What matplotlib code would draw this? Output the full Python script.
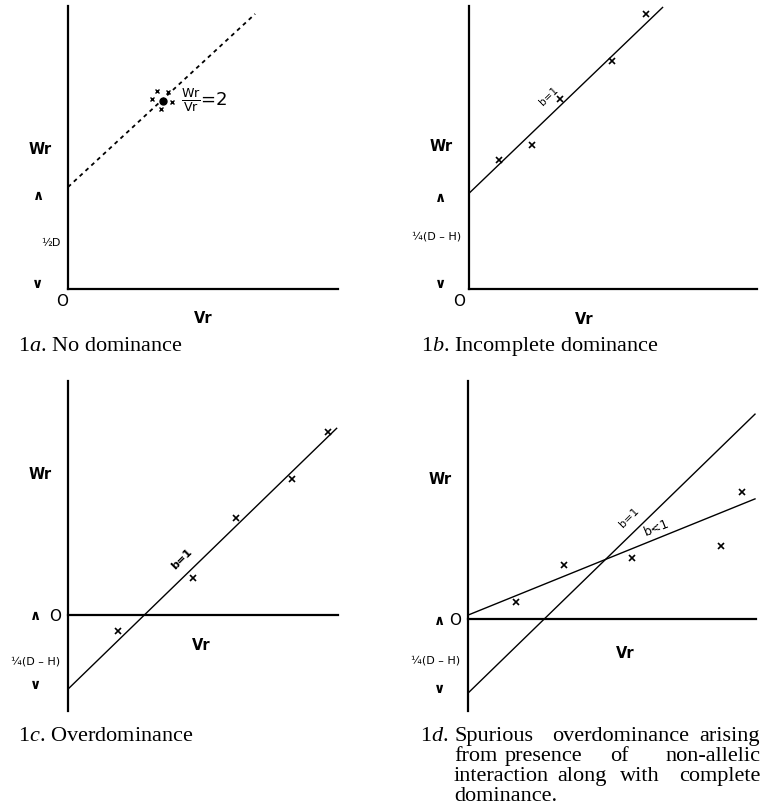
import numpy as np
import matplotlib
matplotlib.use('Agg')
import matplotlib.pyplot as plt

plt.rcParams['mathtext.fontset'] = 'custom'
plt.rcParams['mathtext.rm'] = 'Liberation Serif'
plt.rcParams['mathtext.it'] = 'Liberation Serif:italic'
plt.rcParams['mathtext.sf'] = 'DejaVu Sans'

# --- dados (unidades arbitrarias de Vr e Wr) ---
# 1a: sem dominancia
a_line_vr = [0, 6.93]
a_line_wr = [3.92, 10.58]
a_mean_vr = [3.52]
a_mean_wr = [7.23]
a_pts_vr = [3.30, 3.70, 3.11, 3.85, 3.44]
a_pts_wr = [7.62, 7.58, 7.31, 7.19, 6.92]

# 1b: dominancia incompleta
b_line_vr = [0, 7.17]
b_line_wr = [3.68, 10.83]
b_pts_vr = [1.12, 2.32, 3.37, 5.31, 6.54]
b_pts_wr = [4.96, 5.55, 7.31, 8.76, 10.58]

# 1c: sobredominancia
c_line_vr = [0, 9.95]
c_line_wr = [-2.85, 7.18]
c_pts_vr = [1.86, 4.62, 6.22, 8.28, 9.64]
c_pts_wr = [-0.60, 1.41, 3.72, 5.23, 7.05]

# 1d: sobredominancia espuria
d_b1_vr = [0, 10.63]
d_b1_wr = [-2.85, 7.88]
d_blt1_vr = [0, 10.63]
d_blt1_wr = [0.15, 4.62]
d_pts_vr = [1.78, 3.57, 6.06, 9.36, 10.14]
d_pts_wr = [0.67, 2.09, 2.33, 2.82, 4.90]

W, H = 761, 812
fig = plt.figure(figsize=(W / 100, H / 100), dpi=100)
fig.set_facecolor('white')


def make_axes(left, top, right, bottom, xlim, ylim, zero_axis):
    ax = fig.add_axes([left / W, 1 - bottom / H, (right - left) / W, (bottom - top) / H])
    ax.set_xlim(*xlim)
    ax.set_ylim(*ylim)
    ax.set_facecolor('none')
    for s in ['top', 'right']:
        ax.spines[s].set_visible(False)
    ax.spines['left'].set_linewidth(1.6)
    ax.spines['bottom'].set_linewidth(1.6)
    if zero_axis:
        ax.spines['bottom'].set_position(('data', 0))
    ax.set_xticks([])
    ax.set_yticks([])
    return ax


def axis_labels(ax, wr_y, frac_txt, frac_y, caret_up, caret_dn, o_pos, vr_pos):
    ax.text(-1.05, wr_y, 'Wr', fontsize=10.5, fontweight='bold', ha='center', va='center')
    ax.text(caret_up[0], caret_up[1], '∧', fontsize=10, fontweight='bold', ha='center', va='center')
    ax.text(caret_dn[0], caret_dn[1], '∨', fontsize=10, fontweight='bold', ha='center', va='center')
    ax.text(-0.28, frac_y, frac_txt, fontsize=8, ha='right', va='center')
    ax.text(o_pos[0], o_pos[1], 'O', fontsize=11, ha='center', va='center')
    ax.text(vr_pos[0], vr_pos[1], 'Vr', fontsize=10.5, fontweight='bold', ha='center', va='center')


cross = dict(linestyle='none', marker='x', markersize=4.5, markeredgewidth=1.2,
             color='black', clip_on=False)

# --- 1a ---
ax1 = make_axes(68, 7, 338, 290, (0, 10), (0, 10.885), False)
ax1.plot(a_line_vr, a_line_wr, color='black', lw=1.3, linestyle=(0, (2.2, 2.2)))
ax1.plot(a_pts_vr, a_pts_wr, **dict(cross, markersize=3.5, markeredgewidth=1.0))
ax1.plot(a_mean_vr, a_mean_wr, 'o', color='black', markersize=5)
ax1.text(4.2, 7.3, r'$\frac{\mathsf{Wr}}{\mathsf{Vr}}$=2', fontsize=13, ha='left', va='center')
axis_labels(ax1, 5.42, '½D', 1.80, (-1.10, 3.62), (-1.12, 0.25), (-0.23, -0.45), (5.0, -1.09))

# --- 1b ---
ax2 = make_axes(469, 7, 757, 290, (0, 10.667), (0, 10.885), False)
ax2.plot(b_line_vr, b_line_wr, color='black', lw=1.0)
ax2.plot(b_pts_vr, b_pts_wr, **cross)
ax2.text(2.95, 7.45, 'b=1', fontsize=7.5, rotation=44, ha='center', va='center')
axis_labels(ax2, 5.51, '¼(D – H)', 2.04, (-1.04, 3.55), (-1.07, 0.25), (-0.36, -0.45), (4.26, -1.15))

# --- 1c ---
ax3 = make_axes(68, 382, 338, 712, (0, 10), (-3.692, 9.0), True)
ax3.plot(c_line_vr, c_line_wr, color='black', lw=1.0)
ax3.plot(c_pts_vr, c_pts_wr, **cross)
ax3.text(4.2, 2.2, 'b=1', fontsize=8, fontweight='bold', rotation=45, ha='center', va='center')
axis_labels(ax3, 5.45, '¼(D – H)', -1.76, (-1.22, 0.0), (-1.19, -2.65), (-0.48, 0.0), (4.95, -1.14))

# --- 1d ---
ax4 = make_axes(468, 382, 756, 712, (0, 10.667), (-3.538, 9.154), True)
ax4.plot(d_b1_vr, d_b1_wr, color='black', lw=1.0)
ax4.plot(d_blt1_vr, d_blt1_wr, color='black', lw=1.0)
ax4.plot(d_pts_vr, d_pts_wr, **cross)
ax4.text(5.95, 3.95, 'b=1', fontsize=8, rotation=45, ha='center', va='center')
ax4.text(7.0, 3.55, 'b<1', fontsize=9, rotation=22, ha='center', va='center')
axis_labels(ax4, 5.42, '¼(D – H)', -1.55, (-1.06, -0.05), (-1.06, -2.65), (-0.48, 0.0), (5.81, -1.28))

# --- legendas (texto serifado) ---
cap = dict(fontsize=16, family='Liberation Serif', va='center')


def ftext(x, y, s, **kw):
    fig.text(x / W, 1 - y / H, s, **kw)


ftext(18, 347, r'1$\mathit{a}$. No dominance', ha='left', **cap)
ftext(421, 347, r'1$\mathit{b}$. Incomplete dominance', ha='left', **cap)
ftext(18, 737, r'1$\mathit{c}$. Overdominance', ha='left', **cap)

# 1d justificado palavra a palavra
ftext(420, 737, r'1$\mathit{d}$.', ha='left', **cap)
ftext(454, 737, 'Spurious', ha='left', **cap)
ftext(552, 737, 'overdominance', ha='left', **cap)
ftext(760, 737, 'arising', ha='right', **cap)
ftext(454, 757, 'from', ha='left', **cap)
ftext(505, 757, 'presence', ha='left', **cap)
ftext(610, 757, 'of', ha='left', **cap)
ftext(760, 757, 'non-allelic', ha='right', **cap)
ftext(454, 777, 'interaction', ha='left', **cap)
ftext(557, 777, 'along', ha='left', **cap)
ftext(620, 777, 'with', ha='left', **cap)
ftext(760, 777, 'complete', ha='right', **cap)
ftext(454, 797, 'dominance.', ha='left', **cap)

fig.savefig('out.png', dpi=100, facecolor='white')
